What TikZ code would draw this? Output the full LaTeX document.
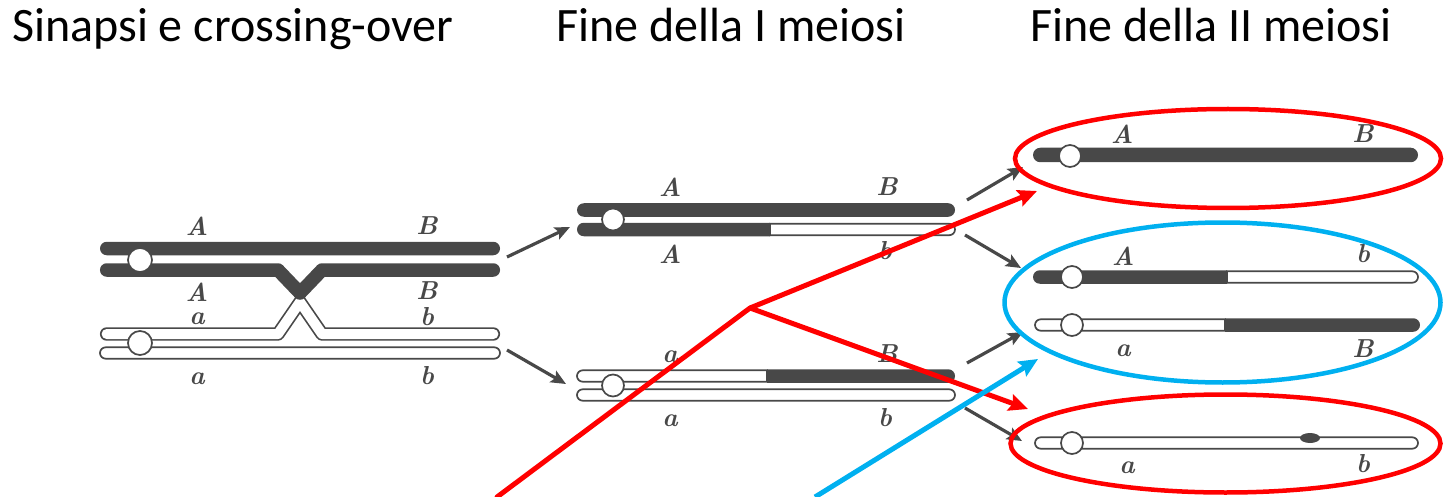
\documentclass[tikz,border=0pt]{standalone}
\usepackage{fontspec}
\newfontfamily\titlefont{Carlito}
\usepackage{tikz}
\usetikzlibrary{shapes,arrows,arrows.meta,positioning}

\definecolor{chromgray}{RGB}{72,72,72}
\definecolor{linkblue}{RGB}{0,176,240}

\begin{document}
\begin{tikzpicture}[x=1pt, y=-1pt,
    darkarm/.style={rounded rectangle, fill=chromgray, minimum height=13.5pt,
                    inner sep=0pt, outer sep=0pt},
    whitearm/.style={rounded rectangle, fill=white, draw=chromgray, line width=1.7pt,
                     minimum height=11.4pt, inner sep=0pt, outer sep=0pt},
    flatright/.style={rounded rectangle right arc=none},
    flatleft/.style={rounded rectangle left arc=none},
    darkpath/.style={chromgray, line width=13.5pt, line cap=round, line join=round},
    whitepath/.style={draw=chromgray, double=white, double distance=10pt, line width=1.7pt,
                      line cap=round, line join=round},
    centro/.style={circle, fill=white, draw=chromgray, line width=1.7pt,
                   minimum size=22pt, inner sep=0pt},
    gene/.style={font=\fontsize{26}{28}\selectfont\bfseries\itshape, text=chromgray, inner sep=0pt},
    heading/.style={font=\titlefont\fontsize{48}{56}\selectfont, anchor=base west, inner sep=0pt},
    arrow/.style={-{Stealth[length=15pt, width=13pt, inset=3pt]}, line width=3.2pt, chromgray},
    link/.style={line width=5pt},
    linktip/.style={-{Stealth[length=19pt, width=17pt, inset=3pt]}},
    ring/.style={ellipse, draw, line width=4.5pt, inner sep=0pt}
]
    \useasboundingbox (0,0) rectangle (1445,497);

    % headings
    \node[heading] (head1) at (12,42) {Sinapsi e crossing-over};
    \node[heading] (head2) at (556,42) {Fine della I meiosi};
    \node[heading] (head3) at (1030,42) {Fine della II meiosi};

    % synapsis with crossing-over
    \node[darkarm, minimum width=400pt, anchor=west] (syn1) at (100,248.5) {};
    \draw[whitepath] (106.6,334) -- (278,334) -- (300,302) -- (322,334) -- (493.4,334);
    \draw[darkpath] (106.7,270) -- (278,270) -- (300,293) -- (322,270) -- (493.3,270);
    \node[whitearm, minimum width=400pt, anchor=west] (syn4) at (100,353) {};
    \node[centro, minimum size=24pt] (sync1) at (140,260) {};
    \node[centro, minimum size=24pt] (sync2) at (140,343) {};

    \node[gene] (sA1) at (197,226) {A};
    \node[gene] (sB1) at (427,226) {B};
    \node[gene] (sA2) at (197,292) {A};
    \node[gene] (sB2) at (427,291) {B};
    \node[gene] (sa3) at (197,319) {a};
    \node[gene] (sb3) at (427,317) {b};
    \node[gene] (sa4) at (197,379) {a};
    \node[gene] (sb4) at (427,376) {b};

    % end of meiosis I
    \node[darkarm, minimum width=378pt, anchor=west] (m1top) at (577,210) {};
    \node[darkarm, flatright, minimum width=193pt, anchor=west] (m1dark) at (577,229.5) {};
    \node[whitearm, flatleft, minimum width=185pt, right=0pt of m1dark] (m1white) {};
    \node[centro] (m1c) at (613,219.5) {};

    \node[whitearm, flatright, minimum width=190pt, anchor=west] (m2white) at (577,376) {};
    \node[darkarm, flatleft, minimum width=188pt, right=0pt of m2white] (m2dark) {};
    \node[whitearm, minimum width=378pt, anchor=west] (m2bot) at (577,395) {};
    \node[centro] (m2c) at (613,385.5) {};

    \node[gene] (mA1) at (670,187) {A};
    \node[gene] (mB1) at (887,187) {B};
    \node[gene] (mA2) at (670,254) {A};
    \node[gene] (mb2) at (885,251) {b};
    \node[gene] (ma3) at (670,357) {a};
    \node[gene] (mB3) at (887,354) {B};
    \node[gene] (ma4) at (670,421) {a};
    \node[gene] (mb4) at (885,418) {b};

    % end of meiosis II
    \node[darkarm, minimum width=385pt, minimum height=14.5pt, anchor=west] (f1) at (1033,155) {};
    \node[centro] (f1c) at (1070,156) {};

    \node[darkarm, flatright, minimum width=194pt, anchor=west] (f2dark) at (1033,277) {};
    \node[whitearm, flatleft, minimum width=191pt, right=0pt of f2dark] (f2white) {};
    \node[centro] (f2c) at (1072,277) {};

    \node[whitearm, flatright, minimum width=190pt, anchor=west] (f3white) at (1035,325) {};
    \node[darkarm, flatleft, minimum width=195pt, right=0pt of f3white] (f3dark) {};
    \node[centro] (f3c) at (1072,325) {};

    \node[whitearm, minimum width=383pt, anchor=west] (f4) at (1035,443) {};
    \node[ellipse, fill=chromgray, minimum width=20pt, minimum height=10pt, inner sep=0pt] (f4spot) at (1310,438) {};
    \node[centro] (f4c) at (1072,443) {};

    \node[gene] (fA1) at (1122,134) {A};
    \node[gene] (fB1) at (1363,134) {B};
    \node[gene] (fA2) at (1123,256) {A};
    \node[gene] (fb2) at (1363,254) {b};
    \node[gene] (fa3) at (1123,351) {a};
    \node[gene] (fB3) at (1363,349) {B};
    \node[gene] (fa4) at (1127,468) {a};
    \node[gene] (fb4) at (1363,464) {b};

    % grey arrows between the stages
    \coordinate (s1out) at (507,257);  \coordinate (m1in) at (570,227);
    \coordinate (s2out) at (507,350);  \coordinate (m2in) at (566,384);
    \coordinate (m1outA) at (967,200); \coordinate (f1in) at (1023,167);
    \coordinate (m1outB) at (965,235); \coordinate (f2in) at (1021,268);
    \coordinate (m2outA) at (967,363); \coordinate (f3in) at (1023,332);
    \coordinate (m2outB) at (965,408); \coordinate (f4in) at (1022,441);
    \draw[arrow] (s1out) -- (m1in);
    \draw[arrow] (s2out) -- (m2in);
    \draw[arrow] (m1outA) -- (f1in);
    \draw[arrow] (m1outB) -- (f2in);
    \draw[arrow] (m2outA) -- (f3in);
    \draw[arrow] (m2outB) -- (f4in);

    % groups of the final chromatids
    \node[ring, draw=red, minimum width=426pt, minimum height=99pt] (keepAB) at (1228,158.5) {};
    \node[ring, draw=linkblue, minimum width=436pt, minimum height=160pt] (recomb) at (1222.5,302.5) {};
    \node[ring, draw=red, minimum width=430pt, minimum height=98pt] (keepab) at (1225.5,443.5) {};

    % pointers
    \coordinate (redfoot) at (497,497);
    \coordinate (redfork) at (750,308);
    \coordinate (redtipA) at (1037,191);
    \coordinate (redtipB) at (1028,409);
    \coordinate (bluefoot) at (815,497);
    \coordinate (bluetip) at (1038,359);
    \draw[link, red, line cap=round] (redfoot) -- (redfork);
    \draw[link, red, linktip] (redfork) -- (redtipA);
    \draw[link, red, linktip] (redfork) -- (redtipB);
    \draw[link, linkblue, linktip] (bluefoot) -- (bluetip);
\end{tikzpicture}
\end{document}
